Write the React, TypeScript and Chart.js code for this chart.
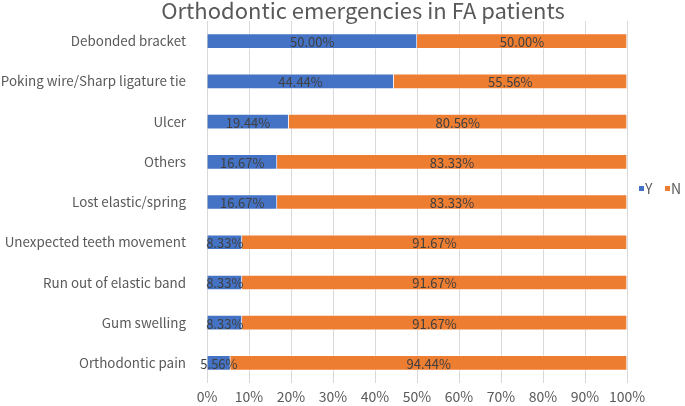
import React, { useEffect, useRef } from "react";
import { Chart, registerables } from "chart.js";

Chart.register(...registerables);

const categories = [
  "Debonded bracket",
  "Poking wire/Sharp ligature tie",
  "Ulcer",
  "Others",
  "Lost elastic/spring",
  "Unexpected teeth movement",
  "Run out of elastic band",
  "Gum swelling",
  "Orthodontic pain",
];
const yValues = [50.0, 44.44, 19.44, 16.67, 16.67, 8.33, 8.33, 8.33, 5.56];
const nValues = [50.0, 55.56, 80.56, 83.33, 83.33, 91.67, 91.67, 91.67, 94.44];
const seriesNames = ["Y", "N"];
const seriesColors = ["#4472C4", "#ED7D31"];
const titleText = "Orthodontic emergencies in FA patients";

const FONT = "'Noto Sans CJK SC', 'Noto Sans', sans-serif";

const labelPlugin = {
  id: "segLabels",
  afterDatasetsDraw(chart: any) {
    const ctx = chart.ctx;
    ctx.save();
    ctx.font = `13px ${FONT}`;
    ctx.fillStyle = "#404040";
    ctx.textAlign = "center";
    ctx.textBaseline = "middle";
    chart.data.datasets.forEach((ds: any, di: number) => {
      const meta = chart.getDatasetMeta(di);
      meta.data.forEach((bar: any, i: number) => {
        const v = ds.data[i];
        const cx = (bar.x + bar.base) / 2;
        ctx.fillText(v.toFixed(2) + "%", cx, bar.y + 1);
      });
    });
    ctx.restore();
  },
  afterDraw(chart: any) {
    const ctx = chart.ctx;
    ctx.save();
    // title
    ctx.font = `22px ${FONT}`;
    ctx.fillStyle = "#595959";
    ctx.textAlign = "center";
    ctx.textBaseline = "middle";
    ctx.fillText(titleText, 363, 11);
    // legend
    ctx.font = `14px ${FONT}`;
    ctx.textAlign = "left";
    const legendX = [639, 665];
    seriesNames.forEach((n, i) => {
      ctx.fillStyle = seriesColors[i];
      ctx.fillRect(legendX[i], 186, 5, 5);
      ctx.fillStyle = "#595959";
      ctx.fillText(n, legendX[i] + 6, 189);
    });
    ctx.restore();
  },
};

export default function App() {
  const ref = useRef<HTMLCanvasElement>(null);
  useEffect(() => {
    const chart = new Chart(ref.current!, {
      type: "bar",
      data: {
        labels: categories,
        datasets: [
          {
            label: seriesNames[0],
            data: yValues,
            backgroundColor: seriesColors[0],
            borderColor: "rgba(255,255,255,0.5)",
            borderWidth: 1,
            barThickness: 15,
          },
          {
            label: seriesNames[1],
            data: nValues,
            backgroundColor: seriesColors[1],
            borderColor: "rgba(255,255,255,0.5)",
            borderWidth: 1,
            barThickness: 15,
          },
        ],
      },
      options: {
        indexAxis: "y",
        responsive: false,
        animation: false,
        layout: { padding: { top: 21, right: 58, left: 0, bottom: 0 } },
        plugins: {
          legend: { display: false },
          title: { display: false },
          tooltip: { enabled: false },
        },
        scales: {
          x: {
            stacked: true,
            min: 0,
            max: 100,
            ticks: {
              stepSize: 10,
              callback: (v: any) => v + "%",
              color: "#595959",
              font: { family: FONT, size: 14 },
              padding: 5,
              maxRotation: 0,
              minRotation: 0,
              autoSkip: false,
            },
            grid: { color: "#D9D9D9", lineWidth: 1, drawTicks: false },
            border: { display: false },
            afterFit: (s: any) => {
              s.height = 23;
            },
          },
          y: {
            stacked: true,
            ticks: {
              color: "#595959",
              font: { family: FONT, size: 13.4 },
              padding: 13,
            },
            grid: { display: false },
            border: { display: false },
            afterFit: (s: any) => {
              s.width = 207;
            },
          },
        },
      },
      plugins: [labelPlugin],
    } as any);
    return () => chart.destroy();
  }, []);
  return (
    <div style={{ position: "absolute", left: 0, top: 0, width: 685, height: 406, background: "#fff" }}>
      <canvas ref={ref} width={685} height={406} />
    </div>
  );
}
